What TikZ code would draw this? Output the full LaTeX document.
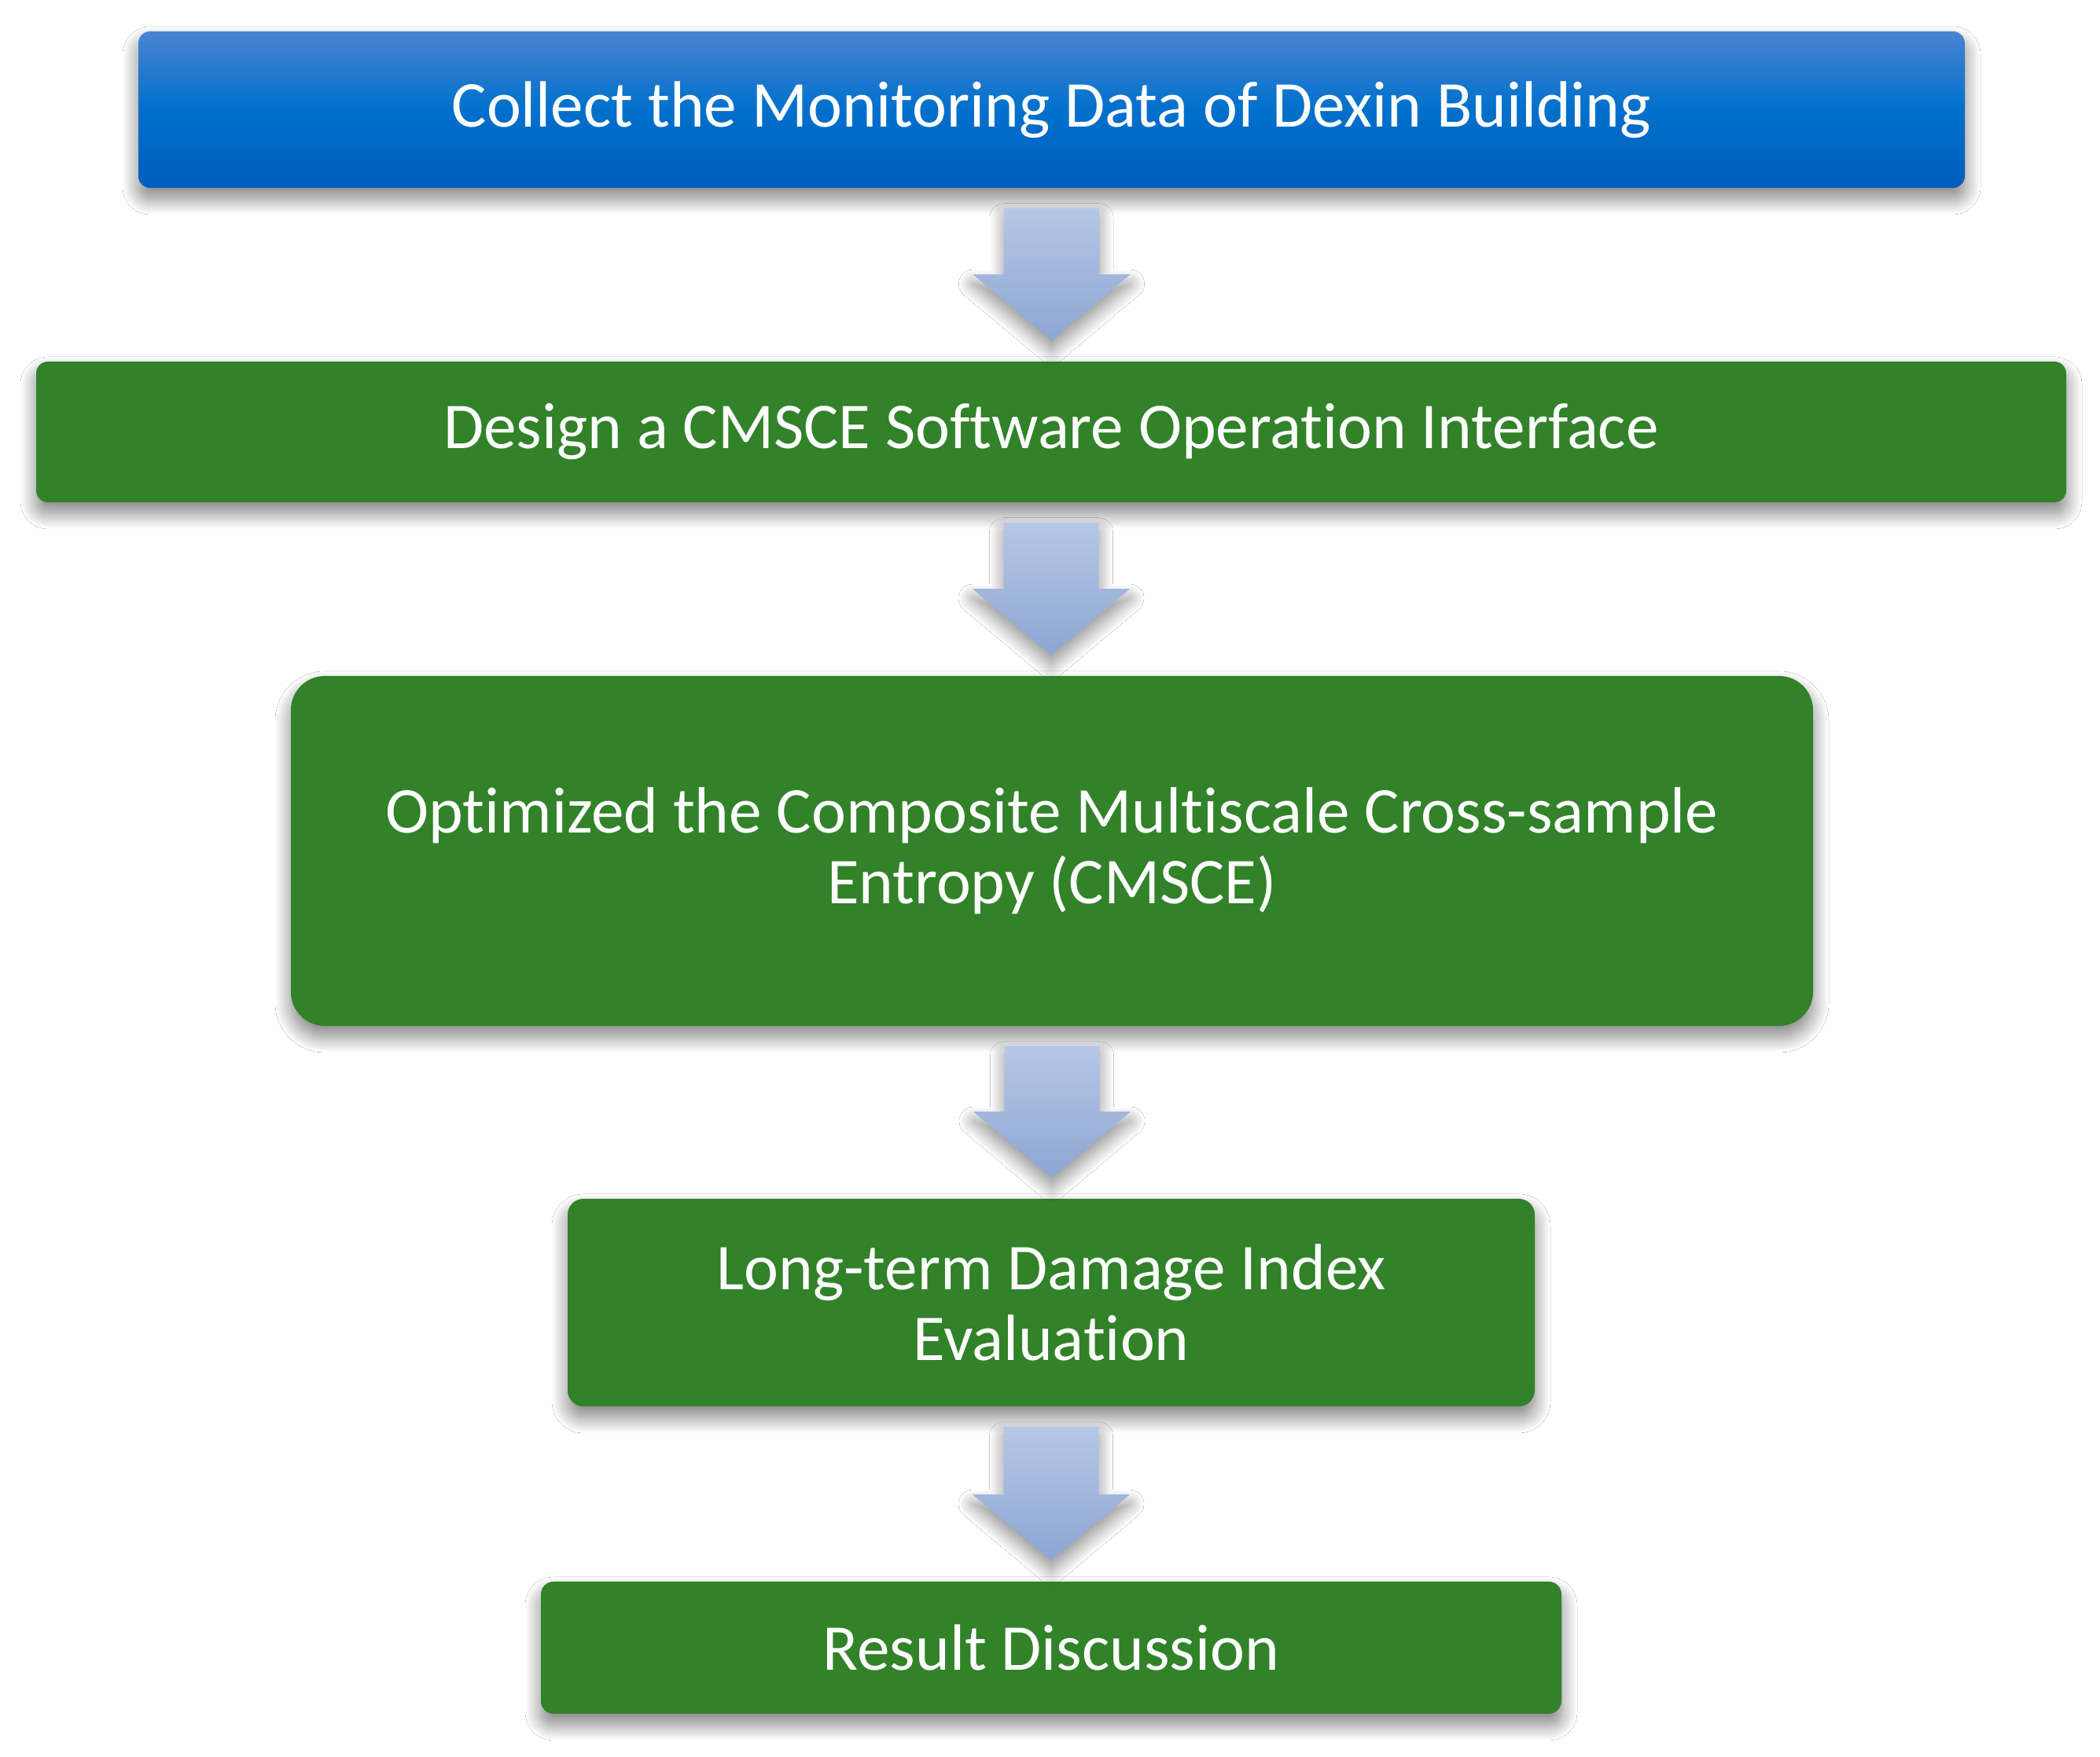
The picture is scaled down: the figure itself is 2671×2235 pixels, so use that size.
\documentclass[tikz,border=0pt]{standalone}
\usepackage{fontspec}
\setmainfont{Carlito}[Ligatures=NoCommon]
\usetikzlibrary{shadows.blur,calc}
\definecolor{bluetop}{RGB}{74,132,208}
\definecolor{bluemid}{RGB}{0,112,204}
\definecolor{bluebot}{RGB}{0,93,188}
\definecolor{boxgreen}{RGB}{49,130,41}
\definecolor{arrtop}{RGB}{182,199,230}
\definecolor{arrbot}{RGB}{142,166,212}
\newcommand\flowarrow[2]{%
  \path[flowarrowsty] let \p1=(#1.south), \p2=(#2.north) in
    (\x1-15.125pt,\y1-6.25pt) -- (\x1+15.125pt,\y1-6.25pt)
    -- (\x1+15.125pt,\y2+27.5pt) -- (\x1+25pt,\y2+27.5pt)
    -- (\x1,\y2+6.5pt) -- (\x1-25pt,\y2+27.5pt)
    -- (\x1-15.125pt,\y2+27.5pt) -- cycle;}
\begin{document}
\begin{tikzpicture}[x=0.25pt,y=0.25pt,
  stepbox/.style={rectangle, rounded corners=3.75pt, inner sep=0pt, text=white,
    align=center, font=\fontsize{20.8}{22.5}\selectfont,
    blur shadow={shadow xshift=0pt, shadow yshift=-3.5pt, shadow blur radius=5pt,
      shadow blur steps=24, shadow opacity=50}},
  greenbox/.style={stepbox, fill=boxgreen},
  bluebox/.style={stepbox, top color=bluetop, bottom color=bluebot, middle color=bluemid},
  flowarrowsty/.style={top color=arrtop, bottom color=arrbot,
    blur shadow={shadow xshift=0pt, shadow yshift=-3pt, shadow blur radius=4.5pt,
      shadow blur steps=24, shadow opacity=45}}
]
\useasboundingbox[fill=white] (0,0) rectangle (2671,2235);
\node[bluebox, minimum width=580.75pt, minimum height=49.75pt] (b1) at (1337.5,2095.5)
  {Collect the Monitoring Data of Dexin Building};
\node[greenbox, minimum width=645.5pt, minimum height=44.75pt] (b2) at (1337,1685.5)
  {Design a CMSCE Software Operation Interface};
\node[greenbox, rounded corners=10.75pt, minimum width=484pt, minimum height=111.25pt] (b3) at (1338,1152.5)
  {Optimized the Composite Multiscale Cross-sample\\Entropy (CMSCE)};
\node[greenbox, rounded corners=5pt, minimum width=307.5pt, minimum height=66pt] (b4) at (1337,578)
  {Long-term Damage Index\\Evaluation};
\node[greenbox, rounded corners=4pt, minimum width=324.5pt, minimum height=42pt] (b5) at (1337,139)
  {Result Discussion};
\flowarrow{b1}{b2}
\flowarrow{b2}{b3}
\flowarrow{b3}{b4}
\flowarrow{b4}{b5}
\end{tikzpicture}
\end{document}
